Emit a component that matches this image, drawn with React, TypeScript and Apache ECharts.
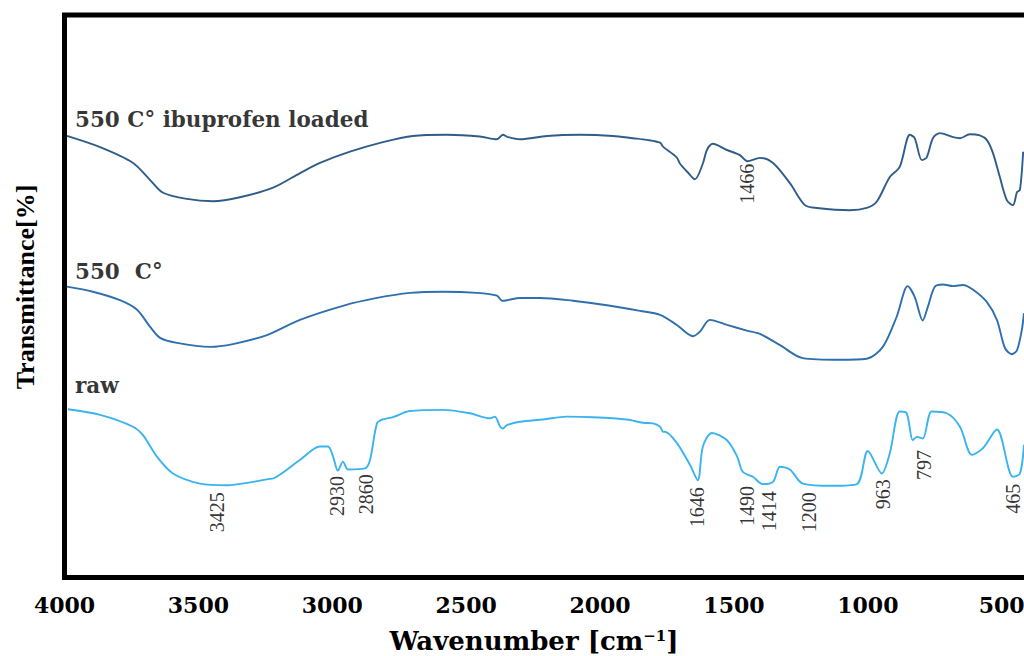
import React, { useEffect, useRef } from "react";
import * as echarts from "echarts";

// ---- Data (wavenumber in cm^-1, transmittance in arbitrary stacked % units) ----
const loadedWn = [3991, 3867, 3744, 3681, 3632, 3543, 3445, 3345, 3221, 3120, 3046, 2934, 2811, 2699, 2572, 2449, 2385, 2363, 2344, 2299, 2198, 2075, 1952, 1877, 1825, 1776, 1765, 1714, 1702, 1672, 1646, 1616, 1601, 1579, 1526, 1478, 1450, 1403, 1354, 1291, 1235, 1190, 1067, 1004, 967, 918, 881, 843, 825, 798, 780, 757, 731, 682, 656, 619, 582, 556, 533, 507, 481, 458, 443, 432, 420];
const loadedT = [78.5, 76.5, 73.7, 70.7, 68.4, 67.3, 66.9, 67.6, 69.3, 71.9, 73.7, 75.7, 77.4, 78.5, 78.7, 78.4, 77.9, 78.7, 78.3, 77.9, 78.5, 78.7, 78.5, 78.1, 77.8, 77.3, 76.6, 74.7, 73.6, 72.0, 70.8, 73.6, 76.0, 77.1, 76.0, 75.1, 74.0, 74.6, 73.7, 70.1, 66.2, 65.7, 65.3, 65.7, 66.8, 71.2, 73.0, 78.7, 78.1, 74.2, 74.7, 78.1, 79.0, 78.3, 78.1, 78.8, 78.6, 77.8, 75.5, 71.2, 67.1, 66.2, 68.5, 68.9, 75.7];

const calcinedWn = [3991, 3894, 3793, 3729, 3681, 3643, 3580, 3457, 3371, 3244, 3121, 2960, 2833, 2710, 2587, 2460, 2385, 2366, 2347, 2299, 2224, 2101, 1974, 1851, 1776, 1713, 1653, 1627, 1590, 1526, 1452, 1403, 1328, 1243, 1105, 1004, 944, 892, 851, 825, 795, 776, 750, 720, 682, 645, 608, 556, 518, 488, 462, 443, 425, 417];
const calcinedT = [51.7, 50.8, 49.3, 47.6, 44.6, 42.6, 41.7, 41.0, 41.5, 43.1, 45.8, 48.3, 49.7, 50.6, 50.8, 50.6, 50.1, 49.2, 49.3, 49.7, 49.7, 49.2, 48.4, 47.4, 46.7, 44.9, 42.9, 43.7, 45.8, 44.9, 43.9, 43.3, 41.3, 39.0, 38.7, 38.9, 41.0, 46.4, 51.8, 49.9, 45.7, 48.1, 51.7, 52.1, 51.8, 52.0, 51.2, 49.0, 45.8, 40.8, 39.7, 40.4, 44.0, 47.0];

const rawWn = [3987, 3867, 3744, 3707, 3655, 3595, 3494, 3393, 3296, 3240, 3221, 3121, 3046, 3016, 2997, 2979, 2960, 2941, 2878, 2859, 2833, 2811, 2773, 2710, 2587, 2486, 2411, 2393, 2374, 2363, 2348, 2299, 2213, 2124, 2027, 1900, 1840, 1802, 1776, 1765, 1758, 1713, 1664, 1635, 1616, 1582, 1526, 1488, 1467, 1429, 1392, 1354, 1328, 1291, 1243, 1131, 1041, 1000, 948, 918, 881, 855, 832, 817, 795, 761, 705, 656, 611, 570, 518, 458, 432, 417];
const rawT = [29.9, 28.9, 26.8, 25.3, 21.5, 18.5, 16.7, 16.4, 17.0, 17.5, 17.6, 20.9, 23.3, 23.3, 21.5, 19.0, 20.6, 19.2, 19.4, 20.9, 27.4, 28.1, 28.5, 29.6, 29.8, 29.2, 28.3, 28.6, 26.9, 26.5, 27.1, 27.7, 28.1, 28.6, 28.5, 28.1, 27.5, 27.4, 26.8, 25.9, 25.9, 23.9, 20.0, 17.3, 23.3, 25.7, 24.4, 21.5, 18.8, 17.9, 16.6, 17.0, 19.7, 19.2, 16.7, 16.3, 16.6, 22.5, 18.5, 22.1, 29.5, 29.2, 24.4, 25.0, 24.7, 29.5, 29.2, 26.8, 21.8, 23.0, 26.3, 17.9, 18.5, 23.6];

// Series names and where their captions sit
const seriesNames = ["550 C° ibuprofen loaded", "550  C°", "raw"];
const captionWn = [3961, 3961, 3961];
const captionT = [81.5, 54.4, 34.2];

// Peak annotations
const peakText = ["1466", "3425", "2930", "2860", "1646", "1490", "1414", "1200", "963", "797", "465"];
const peakWn = [1452, 3429, 2982, 2874, 1638, 1452, 1369, 1220, 944, 791, 458];
const peakT = [70.0, 11.6, 14.5, 14.8, 12.5, 12.7, 11.8, 11.6, 14.8, 20.0, 14.0];

// Axis ticks
const xTickLabels = [4000, 3500, 3000, 2500, 2000, 1500, 1000, 500];

const zip = (xs: number[], ys: number[]) => xs.map((x, i) => [x, ys[i]]);

const SERIF_WIDE = "'DejaVu Serif', serif";
const SERIF = "'Liberation Serif', 'Times New Roman', serif";

export default function App() {
  const ref = useRef<HTMLDivElement>(null);

  useEffect(() => {
    if (!ref.current) return;
    const chart = echarts.init(ref.current, undefined, { renderer: "svg" });
    const colors = ["#2f5d8a", "#2f6fae", "#3ab4ee"];
    const curves = [zip(loadedWn, loadedT), zip(calcinedWn, calcinedT), zip(rawWn, rawT)];

    chart.setOption({
      animation: false,
      backgroundColor: "#ffffff",
      grid: {
        left: 64.5,
        top: 15,
        right: -4.5,
        bottom: 78.5,
        containLabel: false,
        outerBoundsMode: "none",
        show: true,
        borderColor: "#000",
        borderWidth: 5,
        backgroundColor: "transparent",
      },
      xAxis: {
        type: "value",
        min: 400,
        max: 4000,
        interval: 100,
        inverse: true,
        axisLine: { show: false },
        axisTick: { show: false },
        splitLine: { show: false },
        axisLabel: {
          margin: 16,
          fontFamily: SERIF_WIDE,
          fontWeight: "bold",
          fontSize: 22,
          color: "#000",
          formatter: (v: number) => (xTickLabels.includes(v) ? String(v) : ""),
        },
      },
      yAxis: {
        type: "value",
        min: 0,
        max: 100,
        axisLine: { show: false },
        axisTick: { show: false },
        splitLine: { show: false },
        axisLabel: { show: false },
      },
      graphic: [
        {
          type: "text",
          x: 25,
          y: 287,
          rotation: Math.PI / 2,
          style: {
            text: "Transmittance[%]",
            fontFamily: SERIF,
            fontWeight: "bold",
            fontSize: 26,
            fill: "#000",
            align: "center",
            verticalAlign: "middle",
          },
        },
        {
          type: "text",
          x: 534,
          y: 641,
          style: {
            text: "Wavenumber [cm{sup|−1}]",
            fontFamily: SERIF_WIDE,
            fontWeight: "bold",
            fontSize: 26,
            fill: "#000",
            align: "center",
            verticalAlign: "middle",
            rich: {
              sup: {
                fontFamily: SERIF_WIDE,
                fontWeight: "bold",
                fontSize: 15,
                fill: "#000",
                verticalAlign: "top",
                padding: [0, 0, 10, 0],
              },
            },
          },
        },
      ],
      series: [
        ...curves.map((d, i) => ({
          name: seriesNames[i],
          type: "line",
          data: d,
          showSymbol: false,
          smooth: 0.3,
          lineStyle: { color: colors[i], width: 1.9 },
          z: 2,
        })),
        {
          type: "scatter",
          symbolSize: 0,
          silent: true,
          data: seriesNames.map((n, i) => ({ value: [captionWn[i], captionT[i]], name: n })),
          label: {
            show: true,
            position: "right",
            distance: 0,
            formatter: (p: any) => p.name,
            fontFamily: SERIF_WIDE,
            fontWeight: "bold",
            fontSize: 21.5,
            color: "#000",
          },
          z: 3,
        },
        {
          type: "scatter",
          symbolSize: 0,
          silent: true,
          data: peakText.map((t, i) => ({ value: [peakWn[i], peakT[i]], name: t })),
          label: {
            show: true,
            position: "inside",
            rotate: 90,
            formatter: (p: any) => p.name,
            fontFamily: SERIF,
            fontSize: 20,
            color: "#000",
          },
          z: 3,
        },
      ],
    });
    return () => chart.dispose();
  }, []);

  return (
    <div
      ref={ref}
      style={{ position: "fixed", left: 0, top: 0, width: 1024, height: 656, background: "#fff" }}
    />
  );
}
